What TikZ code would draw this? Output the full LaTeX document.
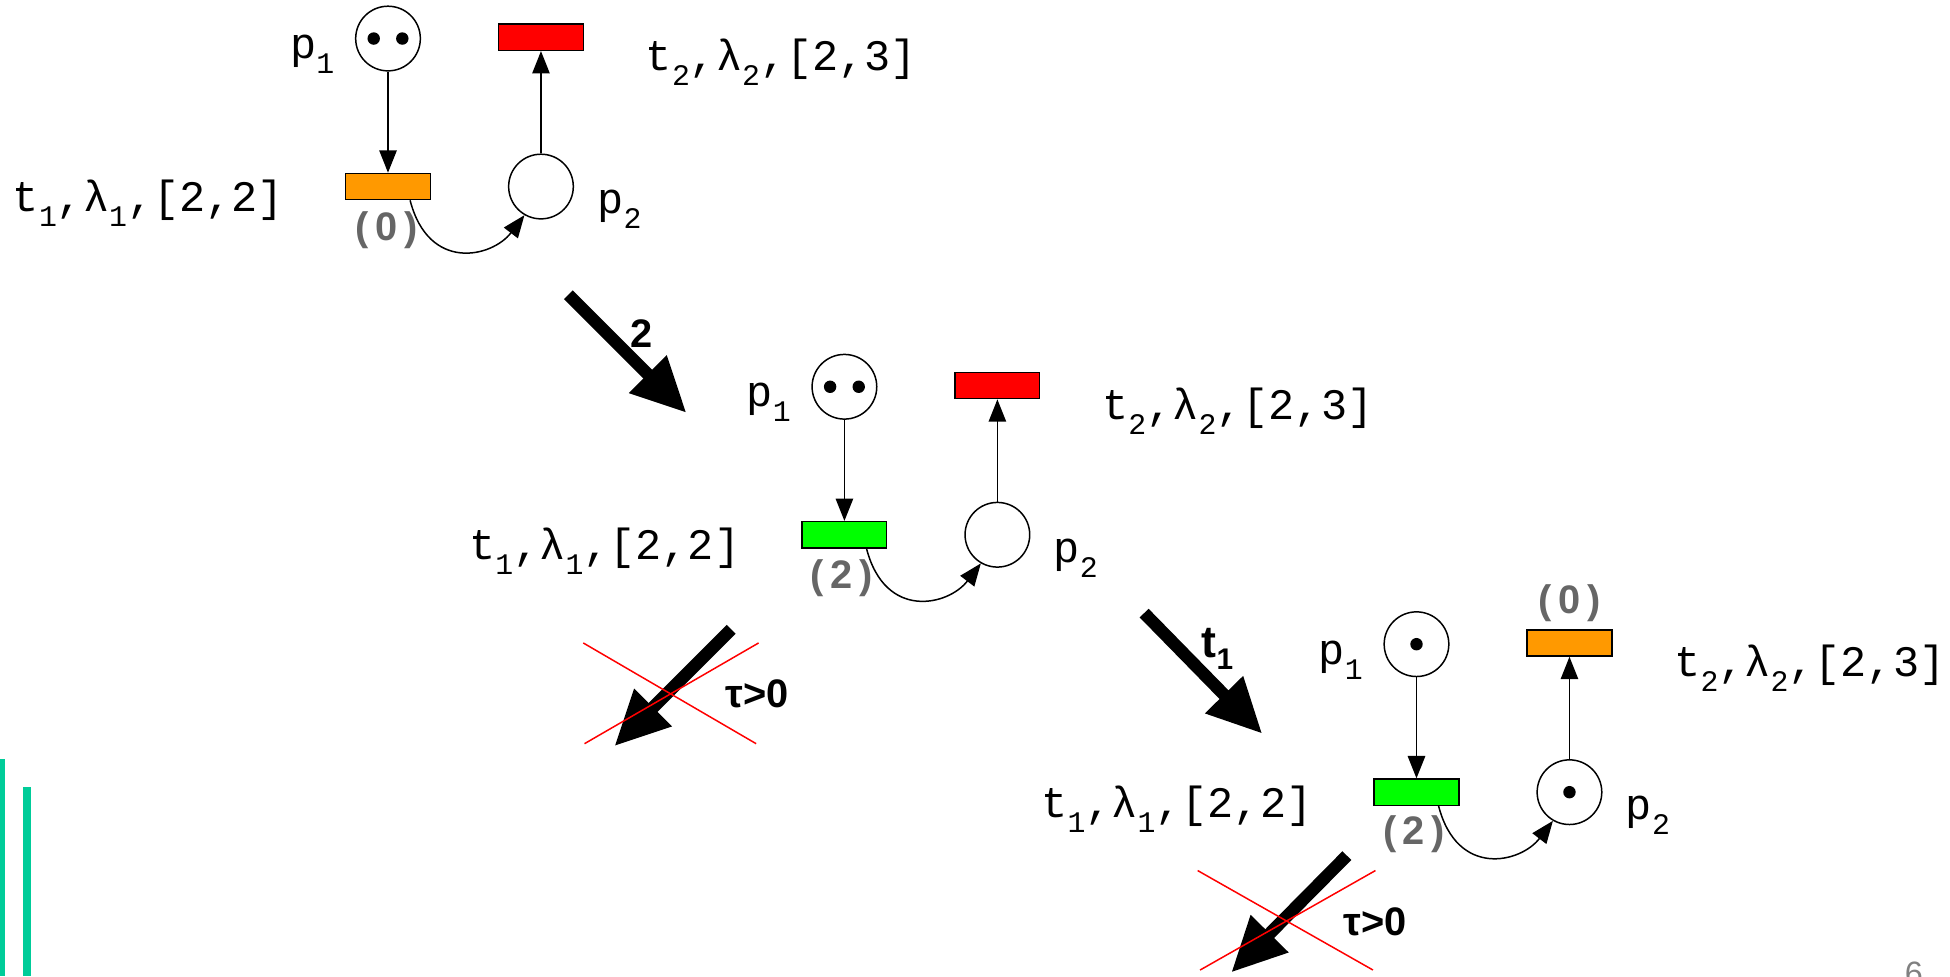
\documentclass[tikz,border=0pt]{standalone}
\usepackage{fontspec}
\setmainfont{Liberation Sans}
\newfontfamily\courfont{Liberation Mono}
\usetikzlibrary{arrows.meta, positioning, calc}
\definecolor{transorange}{RGB}{255,153,0}
\definecolor{transred}{RGB}{255,0,0}
\definecolor{transgreen}{RGB}{0,255,0}
\definecolor{slidegreen}{RGB}{0,204,153}
\definecolor{clockgray}{RGB}{102,102,102}
\newcommand{\subs}[1]{\raisebox{-0.65ex}{\fontsize{12}{12}\selectfont #1}}
\tikzset{
  place/.style={draw, circle, minimum size=26pt, inner sep=0pt, line width=0.6pt, fill=white},
  trans/.style={draw, rectangle, minimum width=34pt, minimum height=10.5pt, inner sep=0pt, line width=0.6pt},
  token/.style={fill=black, circle, minimum size=5pt, inner sep=0pt},
  flow/.style={-{Triangle[length=9pt,width=7pt]}, line width=0.6pt},
  txt/.style={font=\courfont\fontsize{17.5}{20}\selectfont, inner sep=0pt},
  clock/.style={font=\bfseries\fontsize{16}{18}\selectfont, text=clockgray, inner sep=0pt},
  fire/.style={-{Triangle[length=22pt,width=20pt]}, line width=5pt},
  firelabel/.style={font=\bfseries\fontsize{16}{18}\selectfont, inner sep=0pt},
  cross/.style={transred, line width=0.6pt},
}

\begin{document}
\begin{tikzpicture}[x=0.5pt, y=-0.5pt]
    \useasboundingbox (0,0) rectangle (1568,785);
    \clip (0,0) rectangle (1568,785);

    % Slide bars
    \fill[slidegreen] (0,610) rectangle (4,785);
    \fill[slidegreen] (18.5,633) rectangle (25,785);

    % First marking
    \node[place] (p1a) at (312,31) {};
    \node[token] (tokA1) at (300.5,31) {};
    \node[token] (tokA2) at (323.5,31) {};
    \node[trans, fill=transred] (t2a) at (435,30) {};
    \node[trans, fill=transorange] (t1a) at (312,150) {};
    \node[place] (p2a) at (435,150) {};
    \node[txt, anchor=base west] (lp1a) at (233,47) {p\subs{1}};
    \node[txt, anchor=base west] (lt2a) at (519,57) {t\subs{2},λ\subs{2},[2,3]};
    \node[txt, anchor=base west] (lt1a) at (10,170) {t\subs{1},λ\subs{1},[2,2]};
    \node[txt, anchor=base west] (lp2a) at (480,172) {p\subs{2}};
    \node[clock] (ca) at (311,185) {(\,0\,)};
    \draw[flow] (p1a) -- (t1a);
    \draw[flow] (p2a) -- (t2a);
    \draw[flow] (t1a.-32) .. controls +(15,58) and +(-26,34) .. (p2a.-120);

    % Firing after delay 2
    \coordinate (fire1a) at (457,237);
    \coordinate (fire1b) at (552,332);
    \draw[fire] (fire1a) -- (fire1b);
    \node[firelabel] (lfire1) at (516,268) {2};

    % Second marking
    \node[place] (p1b) at (679,311) {};
    \node[token] (tokB1) at (667.5,311) {};
    \node[token] (tokB2) at (690.5,311) {};
    \node[trans, fill=transred] (t2b) at (802,310) {};
    \node[trans, fill=transgreen] (t1b) at (679,430) {};
    \node[place] (p2b) at (802,430) {};
    \node[txt, anchor=base west] (lp1b) at (600,327) {p\subs{1}};
    \node[txt, anchor=base west] (lt2b) at (886,337) {t\subs{2},λ\subs{2},[2,3]};
    \node[txt, anchor=base west] (lt1b) at (377,450) {t\subs{1},λ\subs{1},[2,2]};
    \node[txt, anchor=base west] (lp2b) at (847,452) {p\subs{2}};
    \node[clock] (cb) at (677,465) {(\,2\,)};
    \draw[flow] (p1b) -- (t1b);
    \draw[flow] (p2b) -- (t2b);
    \draw[flow] (t1b.-32) .. controls +(15,58) and +(-26,34) .. (p2b.-120);

    % No more time may elapse
    \coordinate (block1a) at (588,506);
    \coordinate (block1b) at (494,600);
    \draw[fire] (block1a) -- (block1b);
    \coordinate (x1a) at (469,517);
    \coordinate (x1b) at (608,598);
    \coordinate (x1c) at (470,598);
    \coordinate (x1d) at (610,517);
    \draw[cross] (x1a) -- (x1b);
    \draw[cross] (x1c) -- (x1d);
    \node[firelabel] (lblock1) at (609,558) {τ>0};

    % Firing of t1
    \coordinate (fire2a) at (920,493);
    \coordinate (fire2b) at (1015,590);
    \draw[fire] (fire2a) -- (fire2b);
    \node[firelabel, font=\bfseries\fontsize{18}{20}\selectfont] (lfire2) at (979,522) {t\raisebox{-0.5ex}{\fontsize{12}{12}\selectfont 1}};

    % Third marking
    \node[place] (p1c) at (1139,518) {};
    \node[token] (tokC1) at (1139,518) {};
    \node[trans, fill=transorange] (t2c) at (1262,517) {};
    \node[trans, fill=transgreen] (t1c) at (1139,637) {};
    \node[place] (p2c) at (1262,637) {};
    \node[token] (tokC2) at (1262,637) {};
    \node[txt, anchor=base west] (lp1c) at (1060,534) {p\subs{1}};
    \node[txt, anchor=base west] (lt2c) at (1346,544) {t\subs{2},λ\subs{2},[2,3]};
    \node[txt, anchor=base west] (lt1c) at (837,657) {t\subs{1},λ\subs{1},[2,2]};
    \node[txt, anchor=base west] (lp2c) at (1307,659) {p\subs{2}};
    \node[clock] (cc1) at (1137,671) {(\,2\,)};
    \node[clock] (cc2) at (1262,485) {(\,0\,)};
    \draw[flow] (p1c) -- (t1c);
    \draw[flow] (p2c) -- (t2c);
    \draw[flow] (t1c.-32) .. controls +(15,58) and +(-26,34) .. (p2c.-120);

    % No more time may elapse
    \coordinate (block2a) at (1083,688);
    \coordinate (block2b) at (990,782);
    \draw[fire] (block2a) -- (block2b);
    \coordinate (x2a) at (963,700);
    \coordinate (x2b) at (1104,780);
    \coordinate (x2c) at (965,780);
    \coordinate (x2d) at (1106,700);
    \draw[cross] (x2a) -- (x2b);
    \draw[cross] (x2c) -- (x2d);
    \node[firelabel] (lblock2) at (1106,741) {τ>0};

    % Page number
    \node[anchor=north, text=gray, font=\fontsize{13}{15}\selectfont, inner sep=0pt] (page) at (1539,773) {6};
\end{tikzpicture}
\end{document}
